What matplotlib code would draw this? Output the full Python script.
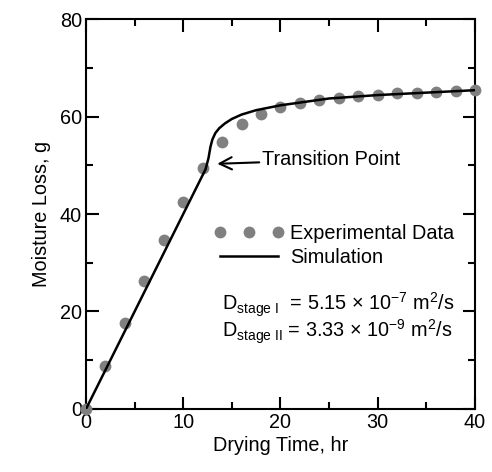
import matplotlib
matplotlib.use("Agg")
import matplotlib.pyplot as plt
from matplotlib.ticker import MultipleLocator

plt.rcParams['font.family'] = ['Liberation Sans', 'DejaVu Sans']
plt.rcParams['mathtext.fontset'] = 'custom'
plt.rcParams['mathtext.rm'] = 'Liberation Sans'
plt.rcParams['mathtext.it'] = 'Liberation Sans:italic'

# experimental data (hr, g)
exp_t = [0, 2, 4, 6, 8, 10, 12, 14, 16, 18, 20, 22, 24, 26, 28, 30, 32, 34, 36, 38, 40]
exp_m = [0, 8.9, 17.6, 26.3, 34.7, 42.4, 49.5, 54.7, 58.5, 60.6, 62.0, 62.8, 63.4, 63.9,
         64.2, 64.5, 64.8, 64.9, 65.1, 65.3, 65.4]

# simulation curve
sim_t = [0, 12.3, 12.6, 12.8, 13.0, 13.3, 13.7, 14.3, 15, 16, 17.5, 20, 25, 30, 35, 40]
sim_m = [0, 49.2, 51.5, 53.8, 55.3, 56.6, 57.6, 58.6, 59.5, 60.4, 61.3, 62.3, 63.7, 64.4, 64.9, 65.4]

fs = 14.3

fig = plt.figure(figsize=(4.92, 4.72), dpi=100)
ax = fig.add_axes([0.1748, 0.1335, 0.7906, 0.8262])

ax.plot(exp_t, exp_m, 'o', color='#808080', markersize=8.5, markeredgewidth=0,
        label='Experimental Data', clip_on=False, zorder=3)
ax.plot(sim_t, sim_m, '-', color='black', linewidth=1.8, label='Simulation', zorder=4)

ax.set_xlim(0, 40)
ax.set_ylim(0, 80)
ax.xaxis.set_major_locator(MultipleLocator(10))
ax.xaxis.set_minor_locator(MultipleLocator(5))
ax.yaxis.set_major_locator(MultipleLocator(20))
ax.yaxis.set_minor_locator(MultipleLocator(10))
ax.tick_params(which='both', direction='in', top=True, right=True, width=1.5,
               labelsize=fs, pad=3)
ax.tick_params(which='major', length=9)
ax.tick_params(which='minor', length=5)
for s in ax.spines.values():
    s.set_linewidth(1.5)

ax.set_xlabel('Drying Time, hr', fontsize=fs, labelpad=3)
ax.set_ylabel('Moisture Loss, g', fontsize=fs, labelpad=6)

ax.annotate('Transition Point', xy=(13.5, 50.3), xytext=(18.1, 51.1),
            fontsize=fs, va='center', ha='left',
            arrowprops=dict(arrowstyle='->', color='black', lw=1.5,
                            mutation_scale=22, shrinkA=0, shrinkB=0))

ax.legend(loc='center left', bbox_to_anchor=(0.33, 0.42), numpoints=3,
          handlelength=3.5, handletextpad=0.3, labelspacing=0.25,
          frameon=False, fontsize=fs, borderpad=0.0, borderaxespad=0.0)

ax.text(14.0, 21.3, r'D$_{\rm stage\ I}$  = 5.15 × 10$^{-7}$ m$^{2}$/s',
        fontsize=fs, va='center', ha='left')
ax.text(14.0, 15.8, r'D$_{\rm stage\ II}$ = 3.33 × 10$^{-9}$ m$^{2}$/s',
        fontsize=fs, va='center', ha='left')

fig.savefig('out.png', dpi=100)
plt.close(fig)
